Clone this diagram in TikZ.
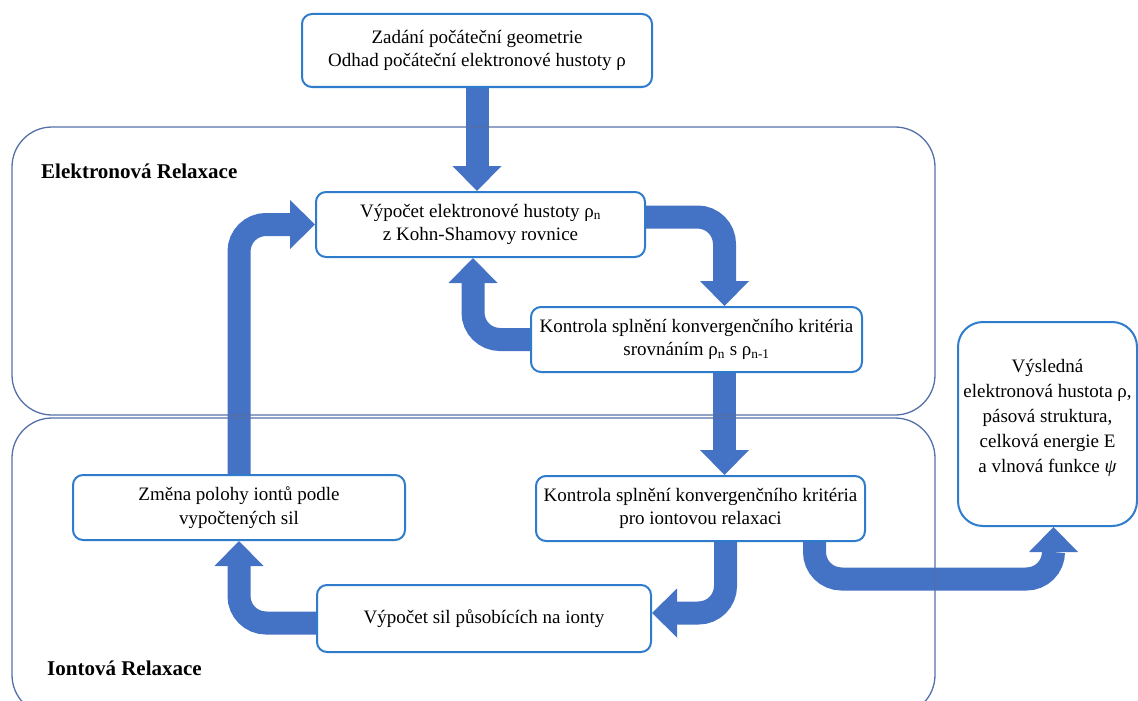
\documentclass[tikz,border=0pt]{standalone}
\usepackage{fontspec}
\setmainfont{Liberation Serif}
\usetikzlibrary{arrows.meta, backgrounds}

\definecolor{arrowblue}{HTML}{4472C4}
\definecolor{boxblue}{HTML}{2E7CCB}
\definecolor{regionblue}{HTML}{5470A8}

\tikzset{
    stepbox/.style={draw=boxblue, line width=2pt, fill=white, rounded corners=10pt,
        align=center, inner sep=0pt, font=\fontsize{19}{23.5}\selectfont},
    region/.style={draw=regionblue, line width=1.3pt, rounded corners=40pt},
    flowarrow/.style={draw=arrowblue, line width=23pt, rounded corners=27pt,
        -{Triangle[width=49pt, length=25pt, line width=0pt]}},
    regionlabel/.style={anchor=base west, inner sep=0pt, font=\fontsize{21}{25}\selectfont\bfseries}
}

\begin{document}
\begin{tikzpicture}[x=1pt, y=-1pt]
    \useasboundingbox (0,0) rectangle (1138,701);
    % Labels of the regions
    \node[regionlabel] (elektron) at (41,178) {Elektronová Relaxace};
    \node[regionlabel] (iont) at (47,675) {Iontová Relaxace};

    % Boxes
    \node[stepbox, minimum width=350pt, minimum height=73pt] (start) at (477,50.5)
        {Zadání počáteční geometrie\\Odhad počáteční elektronové hustoty ρ};
    \node[stepbox, minimum width=329pt, minimum height=65pt] (hustota) at (480.5,224.5)
        {Výpočet elektronové hustoty ρ\textsubscript{n}\\z Kohn-Shamovy rovnice};
    \node[stepbox, minimum width=331pt, minimum height=65pt] (konvE) at (696.5,339.5)
        {Kontrola splnění konvergenčního kritéria\\srovnáním ρ\textsubscript{n} s ρ\textsubscript{n-1}};
    \node[stepbox, minimum width=329pt, minimum height=65pt] (konvI) at (700.5,508.5)
        {Kontrola splnění konvergenčního kritéria\\pro iontovou relaxaci};
    \node[stepbox, minimum width=332pt, minimum height=65pt] (zmena) at (239,507.5)
        {Změna polohy iontů podle\\vypočtených sil};
    \node[stepbox, minimum width=334pt, minimum height=67pt] (sily) at (484,618.5)
        {Výpočet sil působících na ionty};
    \node[stepbox, rounded corners=25pt, font=\fontsize{19}{25}\selectfont,
        minimum width=179pt, minimum height=204pt] (vysledek) at (1047.5,424)
        {Výsledná\\elektronová hustota ρ,\\pásová struktura,\\celková energie E\\a vlnová funkce \textit{ψ}\\[-8pt]\mbox{}};
    \coordinate (bend) at (930,579);

    \begin{pgfonlayer}{background}
        % Arrows
        \draw[flowarrow] (start.south) -- (start.south |- hustota.north);
        \draw[flowarrow] ([yshift=7.5pt]hustota.east) -| ([xshift=28pt]konvE.north);
        \draw[flowarrow] (konvE.west) -| ([xshift=-7.5pt]hustota.south);
        \draw[flowarrow] ([xshift=28pt]konvE.south) -- ([xshift=28pt]konvE.south |- konvI.north);
        \draw[flowarrow] ([xshift=25pt]konvI.south) |- ([yshift=5.5pt]sily.east);
        \draw[flowarrow] ([yshift=-4.5pt]sily.west) -| (zmena.south);
        \draw[flowarrow] (zmena.north) |- (hustota.west);
        \draw[flowarrow] ([xshift=114pt]konvI.south) |- (bend) -| ([xshift=6pt]vysledek.south);
        % Regions
        \draw[region] (12,127) rectangle (935,415);
        \draw[region] (12,418) rectangle (935,715);
    \end{pgfonlayer}
\end{tikzpicture}
\end{document}
